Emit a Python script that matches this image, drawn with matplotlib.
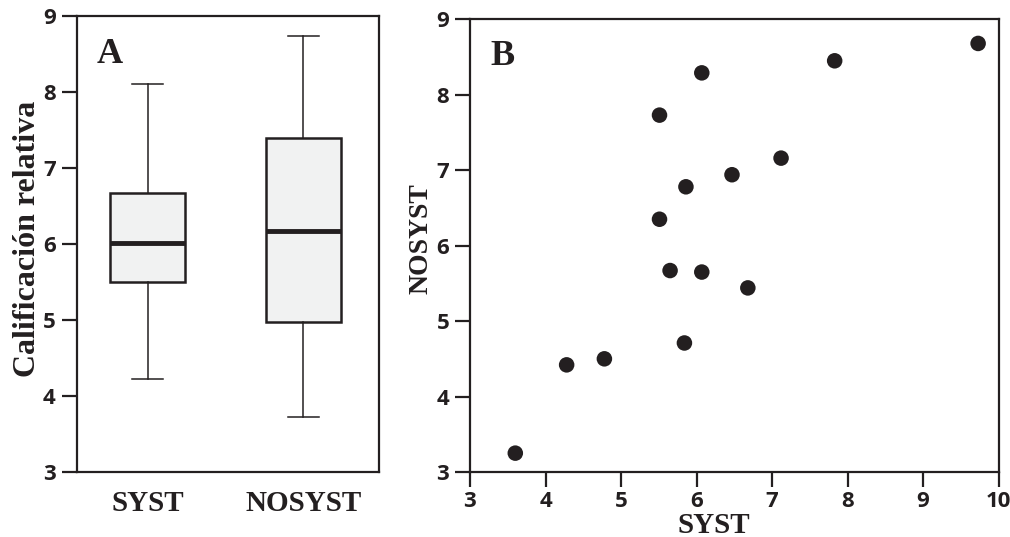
import matplotlib
matplotlib.use("Agg")
import matplotlib.pyplot as plt

# ---------------- data ----------------
box_labels = ["SYST", "NOSYST"]
box_whislo = [4.22, 3.72]
box_q1 = [5.50, 4.97]
box_med = [6.01, 6.17]
box_q3 = [6.67, 7.39]
box_whishi = [8.11, 8.73]

syst = [3.60, 4.28, 4.78, 5.84, 5.65, 6.07, 6.68, 5.51, 5.86, 6.47, 7.12, 5.51, 6.07, 7.83, 9.73]
nosyst = [3.25, 4.42, 4.50, 4.71, 5.67, 5.65, 5.44, 6.35, 6.78, 6.94, 7.16, 7.73, 8.29, 8.45, 8.68]

yticks = [3, 4, 5, 6, 7, 8, 9]
xticks = [3, 4, 5, 6, 7, 8, 9, 10]

# ---------------- style ----------------
INK = "#231f20"
FILL = "#f1f2f2"
SERIF = "Liberation Serif"
SANS = "Open Sans"
W, H = 1010, 537

fig = plt.figure(figsize=(W / 100, H / 100), dpi=100)


def rect(l, t, r, b):
    return [l / W, 1 - b / H, (r - l) / W, (b - t) / H]


ax1 = fig.add_axes(rect(76.7, 16, 379, 471.5))
ax2 = fig.add_axes(rect(470, 19.3, 998.5, 472))

for ax in (ax1, ax2):
    for s in ax.spines.values():
        s.set_linewidth(1.6)
        s.set_color(INK)
    ax.tick_params(axis="both", colors=INK, width=1.6, length=11, pad=4,
                   direction="out")
    ax.set_yticks(yticks)
    ax.set_ylim(3, 9)
    for lab in ax.get_yticklabels():
        lab.set_fontfamily(SANS)
        lab.set_fontweight("bold")
        lab.set_fontsize(16)

# ---------------- panel A ----------------
stats = []
for i, lab in enumerate(box_labels):
    stats.append(dict(label=lab, whislo=box_whislo[i], q1=box_q1[i],
                      med=box_med[i], q3=box_q3[i], whishi=box_whishi[i],
                      fliers=[]))
ax1.bxp(stats, positions=[1, 2], widths=0.48, capwidths=0.2,
        patch_artist=True, showfliers=False,
        boxprops=dict(facecolor=FILL, edgecolor=INK, linewidth=1.8),
        medianprops=dict(color=INK, linewidth=3.5, solid_capstyle="butt"),
        whiskerprops=dict(color=INK, linewidth=1.1),
        capprops=dict(color=INK, linewidth=1.1))
ax1.set_xlim(0.545, 2.487)
ax1.set_xticks([1, 2])
ax1.set_xticklabels(box_labels, fontfamily=SERIF, fontweight="bold",
                    fontsize=21)
ax1.tick_params(axis="x", length=0, pad=13)
ax1.text(0.067, 0.897, "A", transform=ax1.transAxes, fontfamily=SERIF,
         fontweight="bold", fontsize=26, color=INK, va="baseline", ha="left")

fig.text(35 / W, 1 - 239 / H, "Calificación relativa", rotation=90,
         rotation_mode="anchor", ha="center", va="baseline",
         fontfamily=SERIF, fontweight="bold", fontsize=23, color=INK)

# ---------------- panel B ----------------
ax2.scatter(syst, nosyst, s=125, color=INK, edgecolors="none", zorder=3)
ax2.set_xlim(3, 10)
ax2.set_xticks(xticks)
for lab in ax2.get_xticklabels():
    lab.set_fontfamily(SANS)
    lab.set_fontweight("bold")
    lab.set_fontsize(16)
ax2.tick_params(axis="x", pad=3)
ax2.text(0.038, 0.900, "B", transform=ax2.transAxes, fontfamily=SERIF,
         fontweight="bold", fontsize=26, color=INK, va="baseline", ha="left")

fig.text(714 / W, 1 - 533 / H, "SYST", ha="center", va="baseline",
         fontfamily=SERIF, fontweight="bold", fontsize=21, color=INK)
fig.text(427 / W, 1 - 239 / H, "NOSYST", rotation=90, rotation_mode="anchor",
         ha="center", va="baseline", fontfamily=SERIF, fontweight="bold",
         fontsize=20, color=INK)

fig.savefig("out.png", dpi=100)
